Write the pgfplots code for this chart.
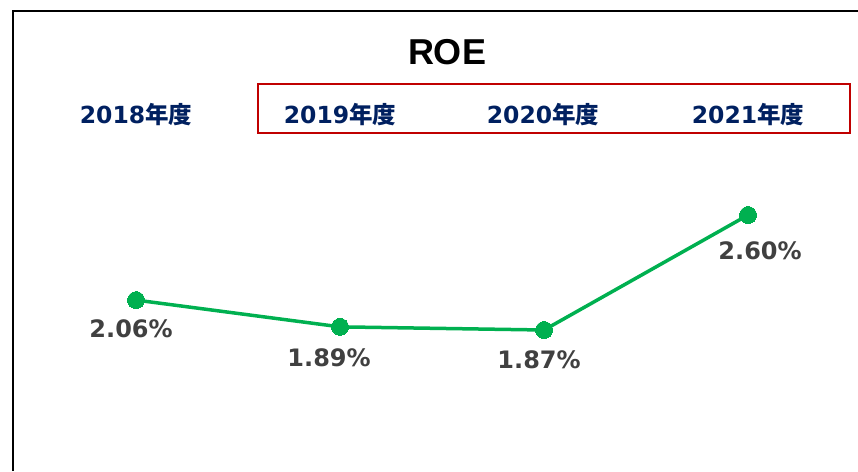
\documentclass[border=0pt]{standalone}
\usepackage{fontspec}
\setmainfont{DejaVu Sans}
\newfontfamily\cjk{Noto Sans CJK JP}
\newfontfamily\titlefont{Liberation Sans}
\usepackage{pgfplots}
\pgfplotsset{compat=1.18}
\definecolor{roegreen}{HTML}{00B050}
\definecolor{labgray}{HTML}{404040}
\definecolor{catnavy}{HTML}{002060}
\definecolor{boxred}{HTML}{C00000}

\begin{document}
\begin{tikzpicture}
\useasboundingbox (0,0) rectangle (858pt,471pt);
\begin{axis}[
  at={(0,0)}, anchor=south west,
  scale only axis, width=858pt, height=471pt,
  hide axis, clip=false,
  xmin=-0.667, xmax=3.539,
  ymin=0.975, ymax=3.965,
]
% ROE by fiscal year (%)
\addplot+[roegreen, line width=3.5pt, mark=*, mark size=8.5pt,
  mark options={fill=roegreen, draw=roegreen, line width=0pt}]
  table {
    x y
    0 2.06
    1 1.89
    2 1.87
    3 2.60
  };
% data labels, placed as in the source slide
\foreach \i/\v/\dx/\dy in {0/2.06/-5/-29, 1/1.89/-11/-31, 2/1.87/-5/-30, 3/2.60/12/-36}{
  \edef\tmp{\noexpand\node[anchor=center, xshift=\dx pt, yshift=\dy pt,
    text=labgray, font=\noexpand\fontsize{24}{24}\noexpand\selectfont\noexpand\bfseries]
    at (axis cs:\i,\v) {\v\noexpand\%};}
  \tmp
}
\end{axis}
\begin{scope}[x=1pt, y=-1pt, shift={(0pt,471pt)}]
  % frame
  \draw[black, line width=2pt] (13,471) -- (13,11) -- (858,11);
  % highlight box
  \draw[boxred, line width=2pt] (258,84) rectangle (850,133);
  % title
  \node[font=\titlefont\fontsize{36}{36}\selectfont\bfseries] at (447,52) {ROE};
  % year headers
  \foreach \xx/\yr in {136/2018, 340/2019, 543/2020, 748/2021}
    \node[text=catnavy, font=\fontsize{23.5}{23.5}\selectfont\bfseries] at (\xx,115)
      {\yr{\cjk 年度}};
\end{scope}
\end{tikzpicture}
\end{document}
